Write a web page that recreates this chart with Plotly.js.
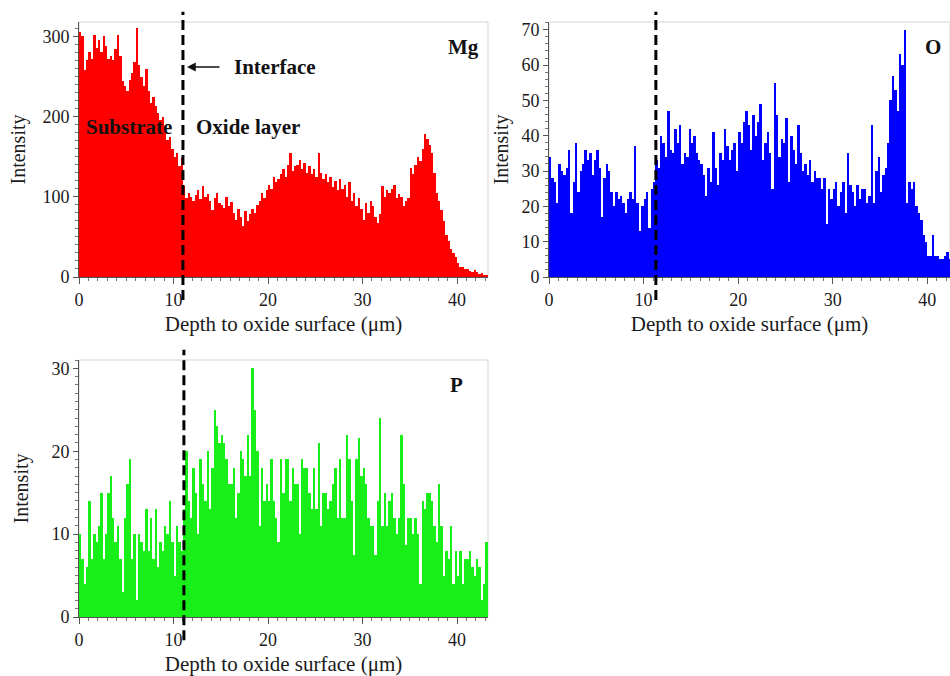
<!DOCTYPE html>
<html>
<head>
<meta charset="utf-8">
<script src="https://cdn.plot.ly/plotly-3.0.1.min.js"></script>
<style>
html, body { margin: 0; padding: 0; background: #fff; }
#chart { width: 950px; height: 676px; }
</style>
</head>
<body>
<div id="chart"></div>
<script>
// Depth bins (μm): first bin centre and bin width
const depthStart = 0.125;
const binWidth = 0.25;

// Interface depth (μm) marked in each panel
const mgInterface = 11.0;
const oInterface = 11.3;
const pInterface = 11.1;

// Mg intensity profile
const mgIntensity = [305,300,258,270, 280,272,302,285, 296,280,300,288, 272,275,270,284, 302,275,245,238,
  232,246,255,268, 311,265,250,238, 259,232,217,225, 213,205,196,200, 188,171,175,160, 150,155,138,148,
  113,98,105,100, 95,102,108,97, 113,100,104,95, 84,98,105,92, 90,86,100,88, 94,80,71,85, 75,63,82,70,
  78,85,80,90, 95,105,98,108, 115,110,125,118, 122,128,135,125, 140,155,132,138, 140,146,135,142,
  130,138,128,135, 125,155,130,122, 128,118,125,112, 120,108,122,110, 115,100,118,95, 105,88,98,85,
  71,92,80,95, 88,75,67,78, 113,100,108,105, 110,115,98,104, 100,88,95,98, 136,128,140,150,
  145,160,178,172, 165,155,130,105, 95,84,70,52, 45,35,30,25, 18,13,12,10, 10,8,6,9, 6,4,5,3, 3];

// O intensity profile
const oIntensity = [34,28,27,21, 32,30,29,31, 36,18,27,38, 24,30,32,36, 33,35,29,33, 36,31,17,28,
  32,30,24,20, 24,22,23,21, 18,22,24,22, 37,21,13,20, 22,24,14,25, 27,33,31,40, 38,34,47,36,
  35,42,38,43, 32,35,34,42, 38,40,35,33, 32,29,23,31, 27,41,31,26, 35,33,42,37, 33,36,38,30,
  41,38,44,47, 43,36,46,40, 44,49,33,38, 41,35,25,55, 46,34,39,38, 45,27,40,36, 32,43,35,30,
  32,29,33,27, 30,28,28,25, 28,15,25,22, 25,27,20,24, 27,18,35,26, 24,20,26,22, 25,25,21,23,
  43,21,30,34, 24,29,31,38, 50,57,53,47, 63,60,70,21, 27,25,27,20, 18,16,12,10, 6,6,12,6, 6,5,5,6, 7,5];

// P intensity profile
const pIntensity = [10,7,4,6, 14,7,10,9, 11,15,7,10, 15,17,12,9, 11,7,3,12, 16,19,7,10, 2,10,9,8,
  13,8,12,7, 13,6,9,8, 11,10,14,9, 5,11,9,8, 13,20,14,12, 18,15,10,19, 16,14,20,13, 18,25,23,21,
  22,21,19,16, 16,18,12,15, 20,19,17,22, 17,30,25,20, 11,18,14,16, 14,19,14,12, 9,19,15,19,
  19,14,18,16, 16,10,19,18, 18,15,13,18, 13,21,11,15, 15,13,14,16, 18,12,19,12, 12,22,19,14,
  7.5,19,21.6,17, 18,16,12,11, 11,7.5,14,24, 11,15,11,14, 15,12,10,12, 22,16,8.7,12, 12,10,12,10,
  4,14,13,15, 15,14,11,9, 16,11,5,8, 7,11,4,8, 5,8,4,7, 7,8,6,5, 7,6,2,4, 9];

// Text
const xTitle = 'Depth to oxide surface (μm)';
const yTitle = 'Intensity';
const panelLabels = ['Mg', 'O', 'P'];

const FONT = '"Liberation Serif", "Times New Roman", serif';

function bars(y, color, xa, ya) {
  return {
    type: 'bar', x0: depthStart, dx: binWidth, y: y,
    xaxis: xa, yaxis: ya,
    marker: { color: color, line: { width: 0 } },
    hoverinfo: 'skip'
  };
}

const data = [
  bars(mgIntensity, '#ff0000', 'x', 'y'),
  bars(oIntensity, '#0000ff', 'x2', 'y2'),
  bars(pIntensity, '#18ee18', 'x3', 'y3')
];

function xAxis(domain, range, anchor) {
  return {
    domain: domain, range: range, anchor: anchor,
    dtick: 10, tick0: 0,
    showline: true, linecolor: '#555', linewidth: 1,
    ticks: 'outside', ticklen: 6, tickcolor: '#555',
    minor: { dtick: 1, ticks: 'outside', ticklen: 3, tickcolor: '#777', showgrid: false },
    tickfont: { family: FONT, size: 18, color: '#1a1a1a' },
    showgrid: false, zeroline: false,
    title: { text: xTitle, font: { family: FONT, size: 21, color: '#1a1a1a' }, standoff: 7 }
  };
}
function yAxis(domain, range, dtick, minorDtick, anchor, standoff) {
  return {
    domain: domain, range: range, anchor: anchor,
    dtick: dtick, tick0: 0,
    showline: true, linecolor: '#555', linewidth: 1,
    ticks: 'outside', ticklen: 5, tickcolor: '#555',
    minor: { dtick: minorDtick, ticks: 'outside', ticklen: 3, tickcolor: '#777', showgrid: false },
    tickfont: { family: FONT, size: 18, color: '#1a1a1a' },
    showgrid: false, zeroline: false,
    title: { text: yTitle, font: { family: FONT, size: 20, color: '#1a1a1a' }, standoff: standoff }
  };
}

const topDomain = [1 - 277 / 676, 1 - 22 / 676];
const botDomain = [1 - 617 / 676, 1 - 360 / 676];
const leftDomain = [79 / 950, 488 / 950];
const rightDomain = [549 / 950, 1];

function interfaceLine(xa, ya, xv) {
  return {
    type: 'line', xref: xa, yref: ya + ' domain',
    x0: xv, x1: xv, y0: -0.09, y1: 1.04,
    line: { color: '#000', width: 3, dash: '10px,5px' },
    layer: 'above'
  };
}
function frame(xa, ya) {
  return {
    type: 'rect', xref: xa + ' domain', yref: ya + ' domain',
    x0: 0, x1: 1, y0: 0, y1: 1,
    line: { color: '#d4d4d4', width: 1 }, fillcolor: 'rgba(0,0,0,0)', layer: 'below'
  };
}

function label(text, xa, ya, x, y, xanchor) {
  return {
    text: '<b>' + text + '</b>', xref: xa + ' domain', yref: ya + ' domain',
    x: x, y: y, xanchor: xanchor || 'center', yanchor: 'middle', showarrow: false,
    font: { family: FONT, size: 21, color: '#111' }
  };
}

const layout = {
  width: 950, height: 676,
  margin: { l: 0, r: 0, t: 0, b: 0 },
  paper_bgcolor: '#fff', plot_bgcolor: '#fff',
  showlegend: false, bargap: 0,
  xaxis: xAxis(leftDomain, [0, 43.28], 'y'),
  yaxis: yAxis(topDomain, [0, 318], 100, 10, 'x', 11),
  xaxis2: xAxis(rightDomain, [0, 42.4], 'y2'),
  yaxis2: yAxis(topDomain, [0, 72.2], 10, 2, 'x2', 7),
  xaxis3: xAxis(leftDomain, [0, 43.28], 'y3'),
  yaxis3: yAxis(botDomain, [0, 31], 10, 1, 'x3', 17),
  shapes: [
    frame('x', 'y'), frame('x2', 'y2'), frame('x3', 'y3'),
    interfaceLine('x', 'y', mgInterface),
    interfaceLine('x2', 'y2', oInterface),
    interfaceLine('x3', 'y3', pInterface)
  ],
  annotations: [
    label(panelLabels[0], 'x', 'y', 0.939, 0.902),
    label(panelLabels[1], 'x2', 'y2', 0.958, 0.902),
    label(panelLabels[2], 'x3', 'y3', 0.924, 0.903),
    label('Substrate', 'x', 'y', 0.122, 0.588),
    label('Oxide layer', 'x', 'y', 0.413, 0.588),
    label('Interface', 'x', 'y', 0.374, 0.8235, 'left'),
    {
      text: '', xref: 'x domain', yref: 'y domain', x: 0.264, y: 0.8235,
      showarrow: true, ax: 34, ay: 0, arrowhead: 2, arrowsize: 1.1, arrowwidth: 1.6, arrowcolor: '#111',
      standoff: 0, startstandoff: 0
    }
  ]
};

Plotly.newPlot('chart', data, layout, { staticPlot: true, displayModeBar: false });
</script>
</body>
</html>
